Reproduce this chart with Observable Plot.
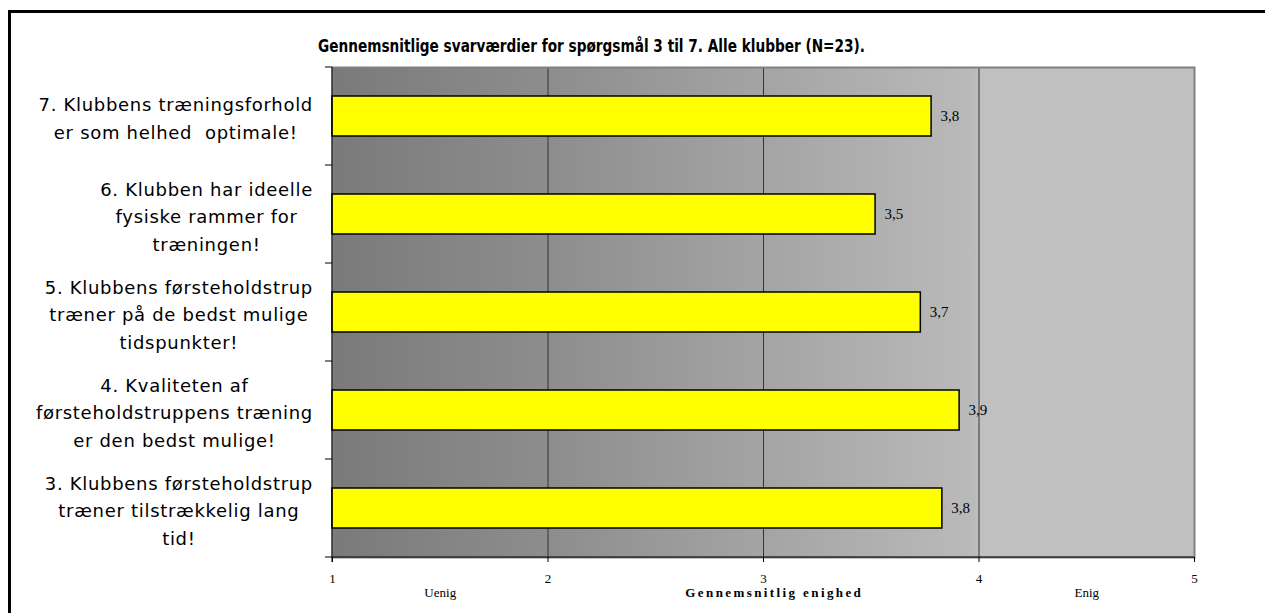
<!DOCTYPE html>
<html><head><meta charset="utf-8">
<script src="https://cdn.jsdelivr.net/npm/d3@7"></script>
<script src="https://cdn.jsdelivr.net/npm/@observablehq/plot@0.6"></script>
<style>
body{margin:0;background:#fff;}
#wrap{position:relative;width:1265px;height:613px;overflow:hidden;background:#fff;}
#border{position:absolute;left:8px;top:10px;width:1300px;height:700px;border-left:3px solid #000;border-top:3px solid #000;}
#chart{position:absolute;left:0;top:0;}
#title{position:absolute;top:35px;left:318px;white-space:nowrap;font:bold 18px "DejaVu Sans";color:#000;transform-origin:0 0;}
</style></head>
<body><div id="wrap"><div id="border"></div><div id="chart"></div><div id="title">Gennemsnitlige svarværdier for spørgsmål 3 til 7. Alle klubber (N=23).</div></div>
<script>
const questions = [
  "7. Klubbens træningsforhold\ner som helhed  optimale!",
  "6. Klubben har ideelle\nfysiske rammer for\ntræningen!",
  "5. Klubbens førsteholdstrup\ntræner på de bedst mulige\ntidspunkter!",
  "4. Kvaliteten af\nførsteholdstruppens træning\ner den bedst mulige!",
  "3. Klubbens førsteholdstrup\ntræner tilstrækkelig lang\ntid!"
];
const values = [3.78, 3.52, 3.73, 3.91, 3.83];
const xTicks = [1, 2, 3, 4, 5];
const gridValues = [2, 3, 4];
const scaleNames = ["Uenig", "Gennemsnitlig enighed", "Enig"];
const scaleNamePositions = [1.5, 3.05, 4.5];

const rows = questions.map((q, i) => ({q, v: values[i]}));
const scaleRows = scaleNames.map((n, i) => ({n, x: scaleNamePositions[i]}));
const fmt = v => d3.format(".1f")(v).replace(".", ",");

const plot = Plot.plot({
  width: 1265, height: 613,
  marginLeft: 332, marginRight: 71, marginTop: 67, marginBottom: 56,
  style: {background: "transparent", overflow: "visible"},
  x: {domain: [1, 5], label: null, axis: null},
  y: {domain: questions, padding: 0, label: null, axis: null},
  marks: [
    Plot.rect([0], {x1: () => 1, x2: () => 5, fill: "url(#bgGrad)"}),
    Plot.ruleX(gridValues, {stroke: "#333", strokeWidth: 1}),
    Plot.frame({stroke: "#808080", strokeWidth: 2}),
    Plot.barX(rows, {y: "q", x1: () => 1, x2: "v", fill: "#ffff00", stroke: "#000", strokeWidth: 1.5, insetTop: 29, insetBottom: 29}),
    Plot.text(rows, {y: "q", x: "v", text: d => fmt(d.v), textAnchor: "start", dx: 9, fontFamily: "Liberation Serif", fontSize: 15, fill: "#000"}),
    Plot.text(rows, {y: "q", frameAnchor: "left", text: "q", textAnchor: "middle", lineHeight: 1.55, fontFamily: "DejaVu Sans", fontSize: 18, fill: "#000", className: "qlabels"}),
    Plot.axisX({ticks: xTicks, tickFormat: d => d, tickSize: 5, tickPadding: 11, fontFamily: "Liberation Serif", fontSize: 13, stroke: "#000", color: "#000"}),
    Plot.text(scaleRows, {x: "x", text: "n", frameAnchor: "bottom", dy: 39, fontFamily: "Liberation Serif", fontSize: 13, fill: "#000", className: "scalenames"})
  ]
});
document.getElementById("chart").appendChild(plot);

// gradient background definition
const svg = d3.select(plot);
const defs = svg.insert("defs", ":first-child");
const grad = defs.append("linearGradient").attr("id", "bgGrad").attr("x1", 0).attr("x2", 1).attr("y1", 0).attr("y2", 0);
[[0, "#7a7a7a"], [0.25, "#8d8d8d"], [0.5, "#a4a4a4"], [0.745, "#bababa"], [0.75, "#c0c0c0"], [1, "#c0c0c0"]]
  .forEach(([o, c]) => grad.append("stop").attr("offset", o).attr("stop-color", c));

// left axis line and boundary ticks from y scale
const ys = plot.scale("y"), xs = plot.scale("x");
const x0 = xs.apply(1);
const bounds = questions.map(q => ys.apply(q)).concat([ys.apply(questions[questions.length - 1]) + ys.step]);
const yBottom = bounds[bounds.length - 1];
const axG = svg.append("g").attr("stroke", "#000");
axG.append("line").attr("x1", x0).attr("x2", x0).attr("y1", bounds[0]).attr("y2", yBottom + 5);
bounds.forEach(b => axG.append("line").attr("x1", x0 - 7).attr("x2", x0).attr("y1", b).attr("y2", b));
axG.append("line").attr("x1", x0).attr("x2", xs.apply(5)).attr("y1", yBottom).attr("y2", yBottom);

// center lines within each label block, block right-aligned left of the axis
svg.selectAll(".qlabels text").attr("letter-spacing", 0.7);
const svgLeft = plot.getBoundingClientRect().left;
svg.selectAll(".qlabels text").each(function() {
  const r = this.getBoundingClientRect();
  const shift = (x0 - 19) - (r.right - svgLeft);
  d3.select(this).attr("transform", `translate(${shift},0) ` + (this.getAttribute("transform") || ""));
});
svg.selectAll(".scalenames text").filter(function() { return this.textContent === "Gennemsnitlig enighed"; })
  .attr("letter-spacing", 2.4).attr("font-weight", "bold").attr("font-size", 13);

// title width fit
const t = document.getElementById("title");
const tw = t.getBoundingClientRect().width;
t.style.transform = `scaleX(${547 / tw})`;
</script>
</body></html>
